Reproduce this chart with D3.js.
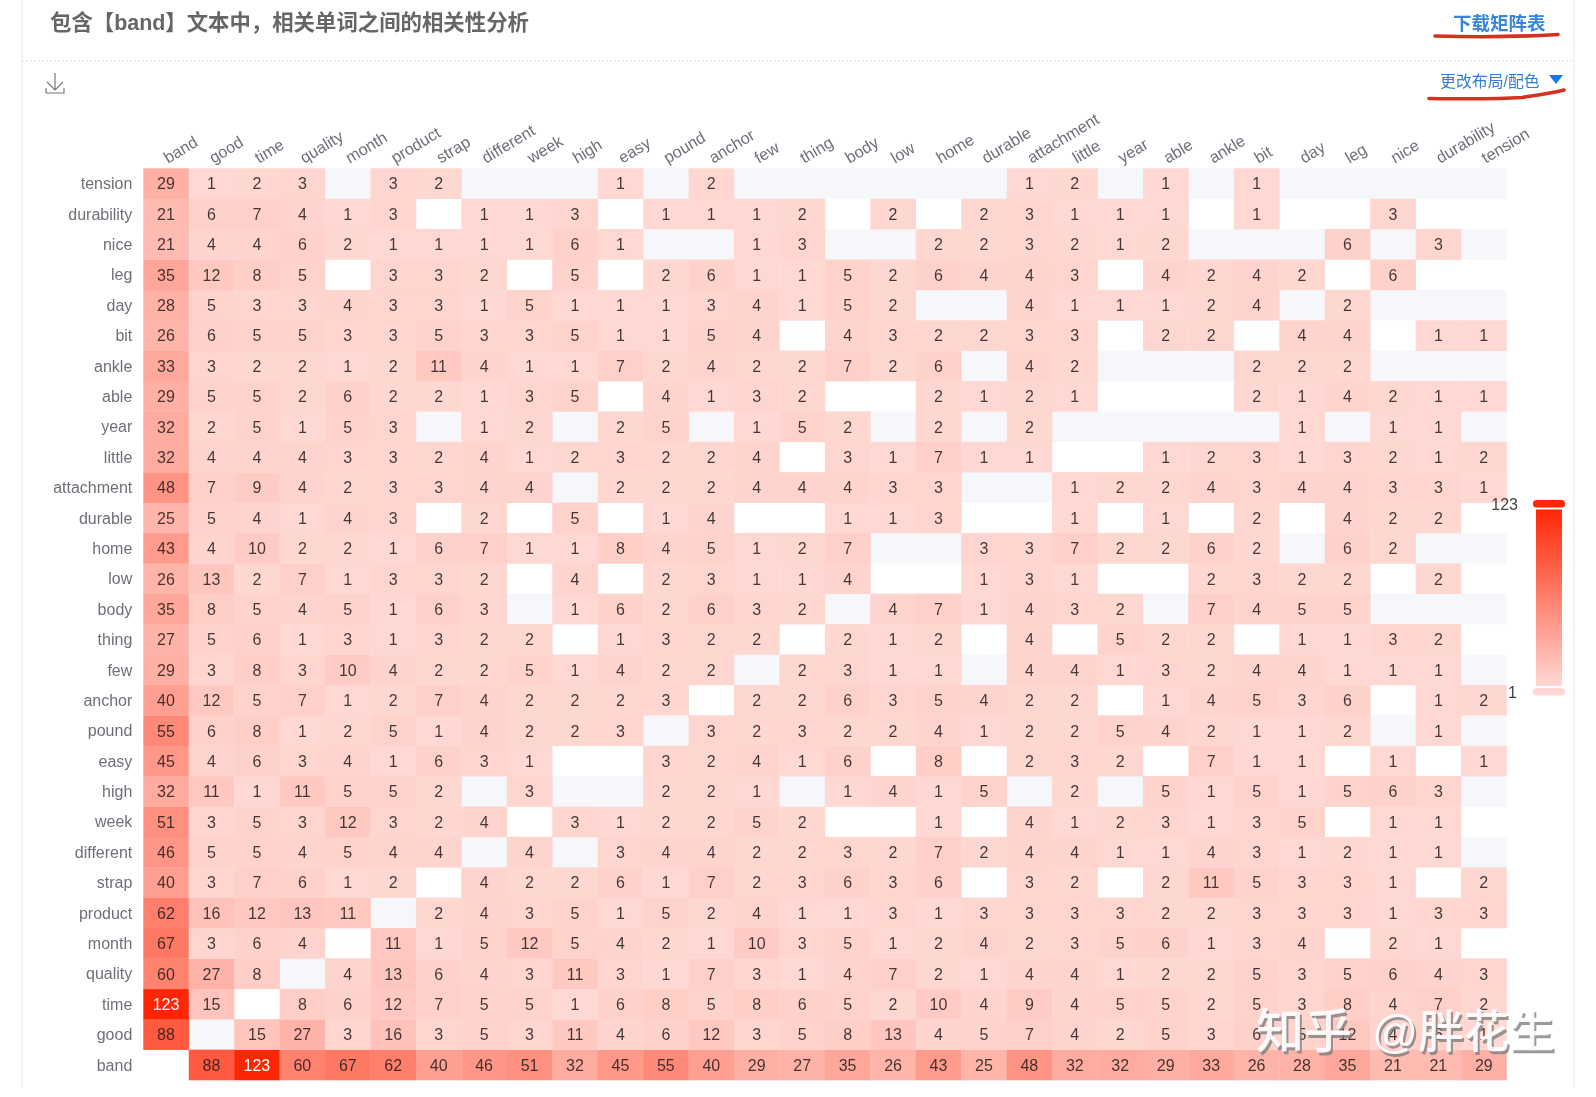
<!DOCTYPE html>
<html><head><meta charset="utf-8">
<script src="https://cdnjs.cloudflare.com/ajax/libs/d3/7.8.5/d3.min.js"></script>
<style>html,body{margin:0;padding:0;background:#fff;overflow:hidden}svg{display:block;filter:blur(.35px)}text{font-family:"Liberation Sans","Noto Sans CJK SC",sans-serif}</style>
</head><body><svg id="c" width="1596" height="1097"></svg>
<script>
const _ = null;
const words = ["band","good","time","quality","month","product","strap","different","week","high","easy","pound","anchor","few","thing","body","low","home","durable","attachment","little","year","able","ankle","bit","day","leg","nice","durability","tension"];
const tension=[29,1,2,3,_,3,2,_,_,_,1,_,2,_,_,_,_,_,_,1,2,_,1,_,1,_,_,_,_,_];
const durability=[21,6,7,4,1,3,_,1,1,3,_,1,1,1,2,_,2,_,2,3,1,1,1,_,1,_,_,3,_,_];
const nice=[21,4,4,6,2,1,1,1,1,6,1,_,_,1,3,_,_,2,2,3,2,1,2,_,_,_,6,_,3,_];
const leg=[35,12,8,5,_,3,3,2,_,5,_,2,6,1,1,5,2,6,4,4,3,_,4,2,4,2,_,6,_,_];
const day=[28,5,3,3,4,3,3,1,5,1,1,1,3,4,1,5,2,_,_,4,1,1,1,2,4,_,2,_,_,_];
const bit=[26,6,5,5,3,3,5,3,3,5,1,1,5,4,_,4,3,2,2,3,3,_,2,2,_,4,4,_,1,1];
const ankle=[33,3,2,2,1,2,11,4,1,1,7,2,4,2,2,7,2,6,_,4,2,_,_,_,2,2,2,_,_,_];
const able=[29,5,5,2,6,2,2,1,3,5,_,4,1,3,2,_,_,2,1,2,1,_,_,_,2,1,4,2,1,1];
const year=[32,2,5,1,5,3,_,1,2,_,2,5,_,1,5,2,_,2,_,2,_,_,_,_,_,1,_,1,1,_];
const little=[32,4,4,4,3,3,2,4,1,2,3,2,2,4,_,3,1,7,1,1,_,_,1,2,3,1,3,2,1,2];
const attachment=[48,7,9,4,2,3,3,4,4,_,2,2,2,4,4,4,3,3,_,_,1,2,2,4,3,4,4,3,3,1];
const durable=[25,5,4,1,4,3,_,2,_,5,_,1,4,_,_,1,1,3,_,_,1,_,1,_,2,_,4,2,2,_];
const home=[43,4,10,2,2,1,6,7,1,1,8,4,5,1,2,7,_,_,3,3,7,2,2,6,2,_,6,2,_,_];
const low=[26,13,2,7,1,3,3,2,_,4,_,2,3,1,1,4,_,_,1,3,1,_,_,2,3,2,2,_,2,_];
const body=[35,8,5,4,5,1,6,3,_,1,6,2,6,3,2,_,4,7,1,4,3,2,_,7,4,5,5,_,_,_];
const thing=[27,5,6,1,3,1,3,2,2,_,1,3,2,2,_,2,1,2,_,4,_,5,2,2,_,1,1,3,2,_];
const few=[29,3,8,3,10,4,2,2,5,1,4,2,2,_,2,3,1,1,_,4,4,1,3,2,4,4,1,1,1,_];
const anchor=[40,12,5,7,1,2,7,4,2,2,2,3,_,2,2,6,3,5,4,2,2,_,1,4,5,3,6,_,1,2];
const pound=[55,6,8,1,2,5,1,4,2,2,3,_,3,2,3,2,2,4,1,2,2,5,4,2,1,1,2,_,1,_];
const easy=[45,4,6,3,4,1,6,3,1,_,_,3,2,4,1,6,_,8,_,2,3,2,_,7,1,1,_,1,_,1];
const high=[32,11,1,11,5,5,2,_,3,_,_,2,2,1,_,1,4,1,5,_,2,_,5,1,5,1,5,6,3,_];
const week=[51,3,5,3,12,3,2,4,_,3,1,2,2,5,2,_,_,1,_,4,1,2,3,1,3,5,_,1,1,_];
const different=[46,5,5,4,5,4,4,_,4,_,3,4,4,2,2,3,2,7,2,4,4,1,1,4,3,1,2,1,1,_];
const strap=[40,3,7,6,1,2,_,4,2,2,6,1,7,2,3,6,3,6,_,3,2,_,2,11,5,3,3,1,_,2];
const product=[62,16,12,13,11,_,2,4,3,5,1,5,2,4,1,1,3,1,3,3,3,3,2,2,3,3,3,1,3,3];
const month=[67,3,6,4,_,11,1,5,12,5,4,2,1,10,3,5,1,2,4,2,3,5,6,1,3,4,_,2,1,_];
const quality=[60,27,8,_,4,13,6,4,3,11,3,1,7,3,1,4,7,2,1,4,4,1,2,2,5,3,5,6,4,3];
const time=[123,15,_,8,6,12,7,5,5,1,6,8,5,8,6,5,2,10,4,9,4,5,5,2,5,3,8,4,7,2];
const good=[88,_,15,27,3,16,3,5,3,11,4,6,12,3,5,8,13,4,5,7,4,2,5,3,6,5,12,4,6,1];
const band=[_,88,123,60,67,62,40,46,51,32,45,55,40,29,27,35,26,43,25,48,32,32,29,33,26,28,35,21,21,29];
const matrixRows=[band,good,time,quality,month,product,strap,different,week,high,easy,pound,anchor,few,thing,body,low,home,durable,attachment,little,year,able,ankle,bit,day,leg,nice,durability,tension];

const svg=d3.select("#c");
const x=d3.scaleBand().domain(words).range([143.3,1506.5]);
const y=d3.scaleBand().domain(words.slice().reverse()).range([168.3,1080]);
const vmin=1,vmax=123;
const color=d3.scaleLinear().domain([vmin,vmax]).range(["#ffd8d3","#ff2605"]);

// panel
svg.append("line").attr("x1",22).attr("x2",22).attr("y1",0).attr("y2",1088).attr("stroke","#f1f1f1").attr("stroke-width",1.5);
svg.append("line").attr("x1",1574).attr("x2",1574).attr("y1",0).attr("y2",1088).attr("stroke","#f1f1f1").attr("stroke-width",1.5);
svg.append("line").attr("x1",22).attr("x2",1574).attr("y1",61).attr("y2",61).attr("stroke","#e6e6e6").attr("stroke-width",1.5).attr("stroke-dasharray","2 2");
svg.append("text").attr("x",50).attr("y",30).attr("font-size",21.4).attr("font-weight",700).attr("fill","#666").text("包含【band】文本中，相关单词之间的相关性分析");
svg.append("text").attr("x",1453).attr("y",29.5).attr("font-size",18.5).attr("font-weight",700).attr("fill","#3a84d6").text("下载矩阵表");
svg.append("text").attr("x",1440).attr("y",87).attr("font-size",15.9).attr("fill","#2f7fd6").text("更改布局/配色");
svg.append("path").attr("d","M1549 75L1563 75L1556 84Z").attr("fill","#1677e6");
svg.append("path").attr("d","M1435 36C1470 37 1525 36.5 1558 34.5").attr("fill","none").attr("stroke","#d6301f").attr("stroke-width",3.6).attr("stroke-linecap","round");
svg.append("path").attr("d","M1429 98.5C1465 99 1500 99 1522 97.5C1538 95 1552 93 1564 90").attr("fill","none").attr("stroke","#d6301f").attr("stroke-width",3.6).attr("stroke-linecap","round");
svg.append("path").attr("d","M55 73V90M47 82L55 90L63 82M46 88V93H64V88").attr("fill","none").attr("stroke","#777").attr("stroke-width",1.2);

// split area
svg.append("g").selectAll("rect").data(words.filter((d,i)=>i%2===1)).join("rect")
 .attr("x",x.range()[0]).attr("width",x.range()[1]-x.range()[0])
 .attr("y",d=>y(d)).attr("height",y.bandwidth()).attr("fill","#f5f7fb");

// cells
const cells=matrixRows.flatMap((r,i)=>r.map((v,j)=>({r:words[i],c:words[j],v}))).filter(d=>d.v!==null);
svg.append("g").selectAll("rect").data(cells).join("rect")
 .attr("x",d=>x(d.c)).attr("y",d=>y(d.r)).attr("width",x.bandwidth()+.3).attr("height",y.bandwidth()+.3)
 .attr("fill",d=>color(d.v));
svg.append("g").selectAll("text").data(cells).join("text")
 .attr("x",d=>x(d.c)+x.bandwidth()/2).attr("y",d=>y(d.r)+y.bandwidth()/2+.5)
 .attr("text-anchor","middle").attr("dominant-baseline","central").attr("font-size",16)
 .attr("fill",d=>d.v>100?"#fff":"rgba(35,28,28,.85)").text(d=>d.v);

// axes
const ay=svg.append("g").attr("transform","translate(143.3,1)").call(d3.axisLeft(y).tickSize(0).tickPadding(11));
ay.select(".domain").remove();
ay.selectAll("text").attr("font-size",16).attr("fill","#6e7079").attr("font-family",null).attr("dy","0.3em");
const ax=svg.append("g").attr("transform","translate(0,168.3)").call(d3.axisTop(x).tickSize(0).tickPadding(0));
ax.select(".domain").remove();
ax.selectAll("text").attr("font-size",16.3).attr("fill","#6e7079").attr("text-anchor","start").attr("dy",0).attr("y",0)
 .attr("transform","translate(2,-4.5) rotate(-31)");

// visual map
const lg=d3.scaleLinear().domain([vmin,vmax]).range([686,509.5]);
const defs=svg.append("defs");
const gr=defs.append("linearGradient").attr("id","vm").attr("x1",0).attr("x2",0).attr("y1",1).attr("y2",0);
gr.append("stop").attr("offset",0).attr("stop-color",color(vmin));
gr.append("stop").attr("offset",1).attr("stop-color",color(vmax));
svg.append("rect").attr("x",1536).attr("width",26).attr("y",lg(vmax)).attr("height",lg(vmin)-lg(vmax)).attr("fill","url(#vm)");
const handles=[{v:vmax,dy:-9.5},{v:vmin,dy:2}];
svg.append("g").selectAll("rect").data(handles).join("rect")
 .attr("x",1533).attr("width",32).attr("height",7.5).attr("rx",3.5).attr("y",d=>lg(d.v)+d.dy).attr("fill",d=>color(d.v));
svg.append("g").selectAll("text").data(handles).join("text")
 .attr("x",d=>d.v===vmax?1518:1517).attr("y",d=>lg(d.v)+d.dy+4).attr("text-anchor","end").attr("dominant-baseline","central")
 .attr("font-size",16).attr("fill","#444").text(d=>d.v);

// watermark
const wm=[{t:"知乎",x:1256,s:48},{t:"@胖花生",x:1372,s:45.5}];
const wmg=svg.append("g");
wmg.selectAll(".s").data(wm).join("text").attr("class","s").attr("x",d=>d.x+2).attr("y",1050.5).attr("font-size",d=>d.s).attr("font-weight",500).attr("fill","#808080").attr("opacity",.8).text(d=>d.t);
wmg.selectAll(".f").data(wm).join("text").attr("class","f").attr("x",d=>d.x).attr("y",1048).attr("font-size",d=>d.s).attr("font-weight",500).attr("fill","#fff").attr("opacity",.92).text(d=>d.t);
</script></body></html>
